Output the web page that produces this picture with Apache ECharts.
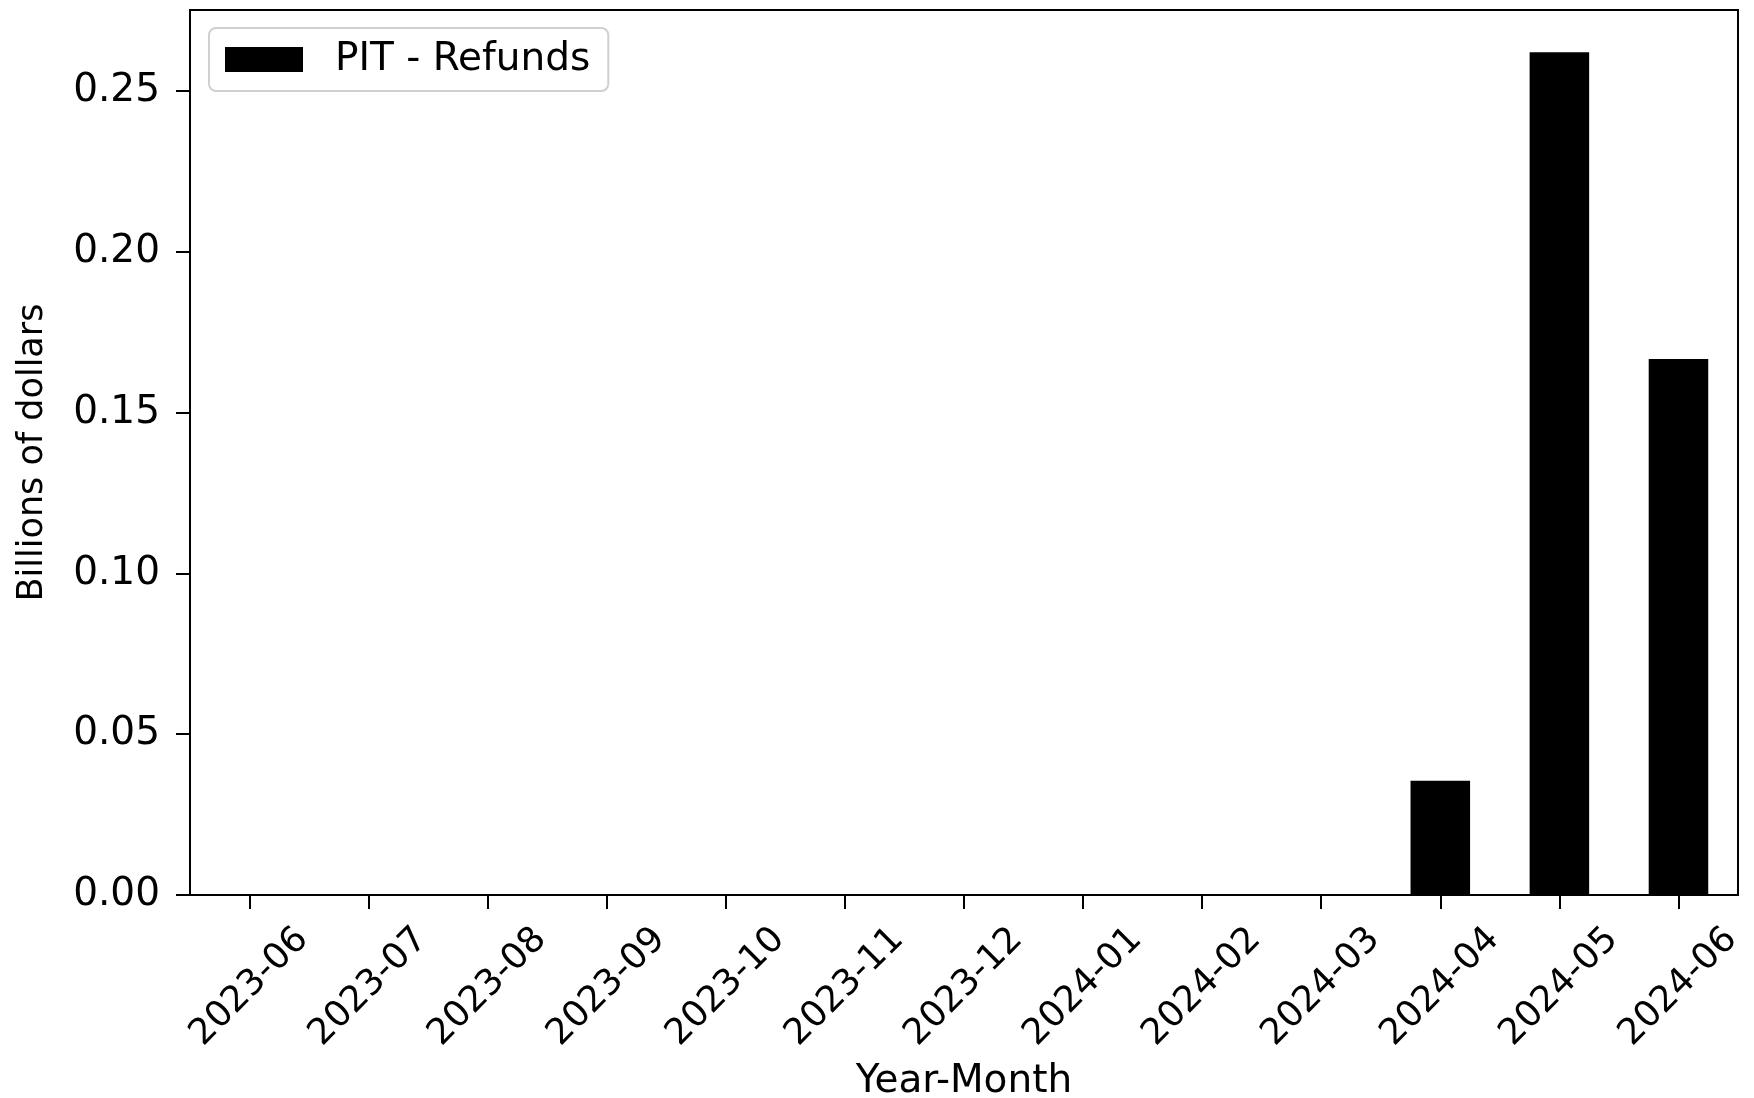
<!DOCTYPE html>
<html>
<head>
<meta charset="utf-8">
<script src="https://cdn.jsdelivr.net/npm/echarts@6/dist/echarts.min.js"></script>
<style>
  html, body { margin: 0; padding: 0; background: #fff; }
  #chart { width: 1754px; height: 1098px; }
</style>
</head>
<body>
<div id="chart"></div>
<script>
const categories = ['2023-06','2023-07','2023-08','2023-09','2023-10','2023-11','2023-12','2024-01','2024-02','2024-03','2024-04','2024-05','2024-06'];
const refunds = [0, 0, 0, 0, 0, 0, 0, 0, 0, 0, 0.0355, 0.2621, 0.1667];
const seriesName = 'PIT - Refunds';
const yTicks = [0, 0.05, 0.10, 0.15, 0.20, 0.25];

const FONT = 'DejaVu Sans';
const FS_H = 39;
const chart = echarts.init(document.getElementById('chart'));
chart.setOption({
  animation: false,
  backgroundColor: '#fff',
  textStyle: { fontFamily: FONT, color: '#000' },
  grid: {
    left: 190, right: 16, top: 10, bottom: 203,
    outerBoundsMode: 'none', containLabel: false,
    show: true, borderColor: '#000', borderWidth: 2, backgroundColor: 'transparent'
  },
  legend: {
    left: 209, top: 28,
    data: [seriesName],
    icon: 'rect',
    itemWidth: 78, itemHeight: 25,
    padding: [12, 18, 12, 16],
    backgroundColor: '#fff',
    borderColor: '#d0d0d0', borderWidth: 2, borderRadius: 7,
    textStyle: { fontFamily: FONT, fontSize: FS_H, color: '#000', padding: [0, 0, 0, 27], lineHeight: 38 }
  },
  xAxis: {
    type: 'category',
    data: categories,
    boundaryGap: true,
    name: 'Year-Month',
    nameLocation: 'middle',
    nameGap: 167,
    nameTextStyle: { fontFamily: FONT, fontSize: FS_H, color: '#000' },
    axisLine: { show: true, lineStyle: { color: '#000', width: 2 } },
    axisTick: { show: true, alignWithLabel: true, length: 14, lineStyle: { color: '#000', width: 2 } },
    axisLabel: {
      rotate: 45, interval: 0, margin: 92,
      align: 'center', verticalAlign: 'middle',
      fontFamily: FONT, fontSize: 36, color: '#000'
    },
    splitLine: { show: false }
  },
  yAxis: {
    type: 'value',
    min: 0, max: 0.2752, interval: 0.05,
    name: 'Billions of dollars',
    nameLocation: 'middle',
    nameGap: 140,
    nameRotate: 90,
    nameTextStyle: { fontFamily: FONT, fontSize: 35, color: '#000' },
    axisLine: { show: true, lineStyle: { color: '#000', width: 2 } },
    axisTick: { show: true, length: 14, lineStyle: { color: '#000', width: 2 } },
    axisLabel: {
      showMaxLabel: false, margin: 30,
      fontFamily: FONT, fontSize: FS_H, color: '#000',
      formatter: function (v) { return yTicks.some(t => Math.abs(t - v) < 1e-9) ? v.toFixed(2) : ''; }
    },
    splitLine: { show: false }
  },
  series: [{
    name: seriesName,
    type: 'bar',
    data: refunds,
    barWidth: '50%',
    itemStyle: { color: '#000' }
  }]
});
</script>
</body>
</html>
